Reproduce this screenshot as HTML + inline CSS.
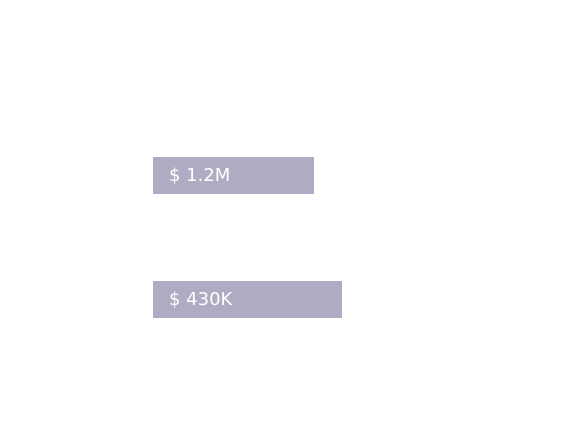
<!DOCTYPE html>
<html><head><meta charset="utf-8"><style>
html,body{margin:0;padding:0;background:#fff;}
#chart{position:relative;width:562px;height:440px;overflow:hidden;font-family:"DejaVu Sans","Liberation Sans",sans-serif;}
.bar{position:absolute;background:#aeabc3;}
.lbl{position:absolute;color:#fff;font-size:18px;line-height:1;white-space:nowrap;}
</style></head><body>
<div id="chart"></div>
<script>
const categories = ["item-1", "item-2"];
const values = [1200000, 430000];
const barMeasure = [85, 100];

const chart = document.getElementById('chart');
const x0 = 153, maxW = 189, maxV = 100;
const xScale = v => v / maxV * maxW;
const yTop = 157, step = 124, barH = 37;
function fmt(v){ return v >= 1e6 ? "$ " + (v/1e6).toFixed(1) + "M" : "$ " + Math.round(v/1e3) + "K"; }
categories.forEach((c, i) => {
  const b = document.createElement('div');
  b.className = 'bar';
  
  
  b.style.left = x0 + 'px';
  b.style.top = (yTop + i * step) + 'px';
  b.style.width = xScale(barMeasure[i]) + 'px';
  b.style.height = barH + 'px';
  chart.appendChild(b);
  const t = document.createElement('div');
  t.className = 'lbl';
  
  
  t.textContent = fmt(values[i]);
  t.style.left = (x0 + 16) + 'px';
  t.style.top = (yTop + i * step + 10) + 'px';
  chart.appendChild(t);
});
</script>
</body></html>
